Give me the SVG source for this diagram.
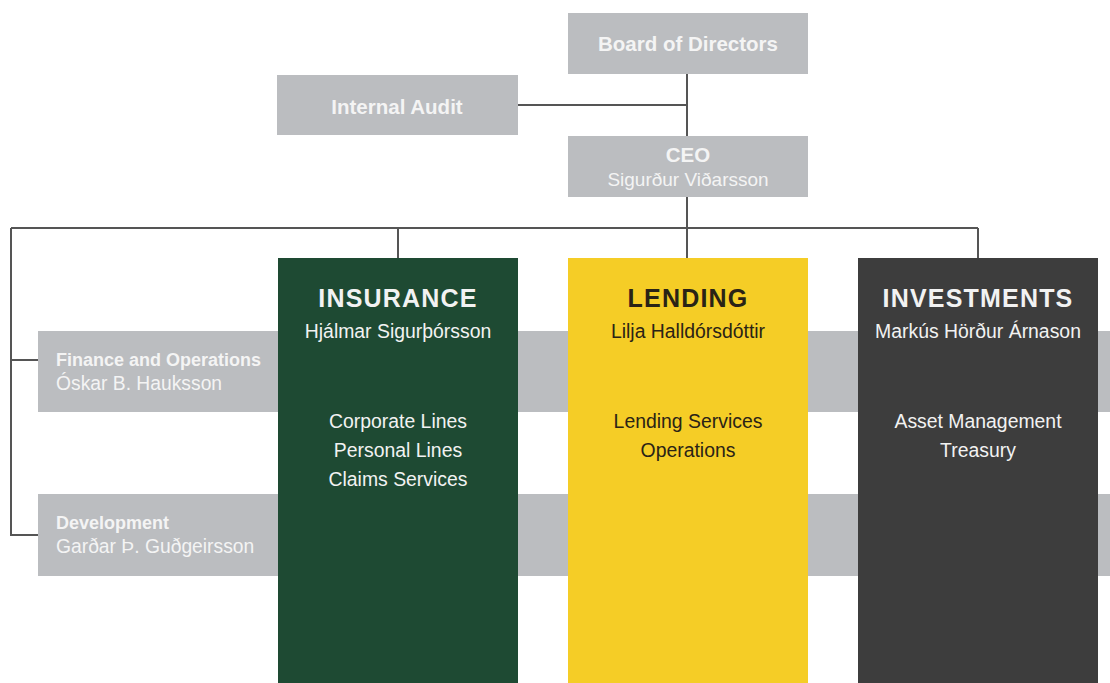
<svg xmlns="http://www.w3.org/2000/svg" width="1110" height="683" viewBox="0 0 1110 683">
<style>
.gbox{fill:#bbbdc0}
.hd{font-family:"Liberation Sans",Arial,sans-serif;font-weight:bold;font-size:20.5px;fill:#f4f4f4}
.nm{font-family:"Liberation Sans",Arial,sans-serif;font-size:19px;fill:#f4f4f4}
.shd{font-family:"Liberation Sans",Arial,sans-serif;font-weight:bold;font-size:18px;fill:#f4f4f4}
.snm{font-family:"Liberation Sans",Arial,sans-serif;font-size:19.3px;fill:#f4f4f4}
.ttl{font-family:"Liberation Sans",Arial,sans-serif;font-weight:bold;font-size:25px;letter-spacing:1.2px}
.cn{font-family:"Liberation Sans",Arial,sans-serif;font-size:19.4px}
.it{font-family:"Liberation Sans",Arial,sans-serif;font-size:19.4px}
.ln{stroke:#555;stroke-width:2;fill:none}
</style>
<rect width="1110" height="683" fill="#ffffff"/>
<g id="connectors">
<path class="ln" d="M687 74V136M518 105H687M687 197V258M11 228H978M398 228V258M978 228V258M11 228V535H38M11 360H38"/>
</g>
<g id="finance">
<rect class="gbox" x="38" y="331" width="1072" height="81"/>
<text class="shd" x="56" y="366">Finance and Operations</text>
<text class="snm" x="56" y="390">Óskar B. Hauksson</text>
</g>
<g id="development">
<rect class="gbox" x="38" y="494" width="1072" height="82"/>
<text class="shd" x="56" y="529">Development</text>
<text class="snm" x="56" y="553">Garðar Þ. Guðgeirsson</text>
</g>
<g id="board">
<rect class="gbox" x="568" y="13" width="240" height="61"/>
<text class="hd" x="688" y="51" text-anchor="middle">Board of Directors</text>
</g>
<g id="audit">
<rect class="gbox" x="277" y="75" width="241" height="60"/>
<text class="hd" x="397" y="114" text-anchor="middle">Internal Audit</text>
</g>
<g id="ceo">
<rect class="gbox" x="568" y="136" width="240" height="61"/>
<text class="hd" x="688" y="162" text-anchor="middle">CEO</text>
<text class="nm" x="688" y="186" text-anchor="middle">Sigurður Viðarsson</text>
</g>
<g id="insurance">
<rect x="278" y="258" width="240" height="425" fill="#1e4a33"/>
<text class="ttl" x="398" y="307" text-anchor="middle" fill="#f2f2f2">INSURANCE</text>
<text class="cn" x="398" y="338" text-anchor="middle" fill="#f2f2f2">Hjálmar Sigurþórsson</text>
<text class="it" x="398" y="428" text-anchor="middle" fill="#f2f2f2">Corporate Lines</text>
<text class="it" x="398" y="457" text-anchor="middle" fill="#f2f2f2">Personal Lines</text>
<text class="it" x="398" y="486" text-anchor="middle" fill="#f2f2f2">Claims Services</text>
</g>
<g id="lending">
<rect x="568" y="258" width="240" height="425" fill="#f5cd26"/>
<text class="ttl" x="688" y="307" text-anchor="middle" fill="#2a2316">LENDING</text>
<text class="cn" x="688" y="338" text-anchor="middle" fill="#2a2316">Lilja Halldórsdóttir</text>
<text class="it" x="688" y="428" text-anchor="middle" fill="#2a2316">Lending Services</text>
<text class="it" x="688" y="457" text-anchor="middle" fill="#2a2316">Operations</text>
</g>
<g id="investments">
<rect x="858" y="258" width="240" height="425" fill="#3d3d3d"/>
<text class="ttl" x="978" y="307" text-anchor="middle" fill="#f2f2f2">INVESTMENTS</text>
<text class="cn" x="978" y="338" text-anchor="middle" fill="#f2f2f2">Markús Hörður Árnason</text>
<text class="it" x="978" y="428" text-anchor="middle" fill="#f2f2f2">Asset Management</text>
<text class="it" x="978" y="457" text-anchor="middle" fill="#f2f2f2">Treasury</text>
</g>
</svg>
